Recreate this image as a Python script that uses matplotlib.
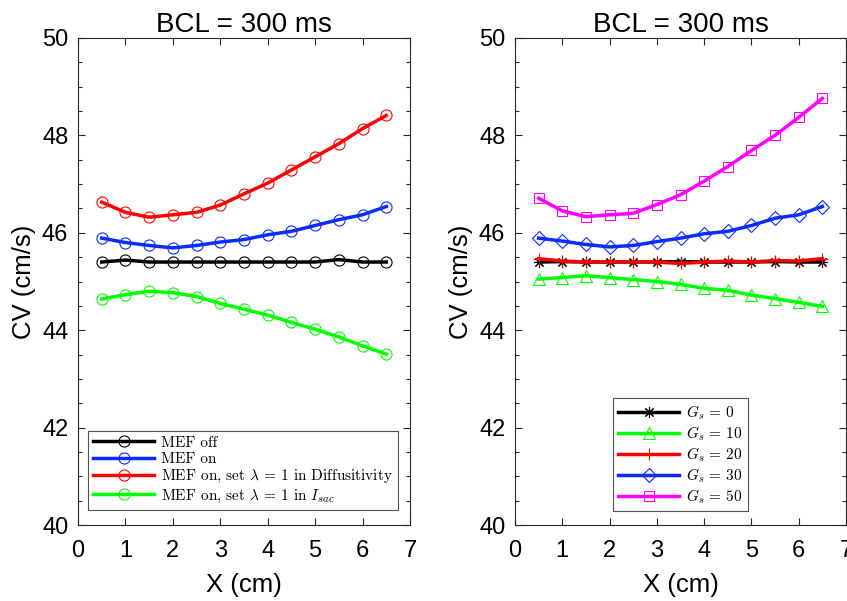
import numpy as np
import matplotlib
matplotlib.use('Agg')
import matplotlib.pyplot as plt

plt.rcParams['font.family'] = ['Liberation Sans', 'DejaVu Sans']
plt.rcParams['mathtext.fontset'] = 'cm'

x = [0.5, 1.0, 1.5, 2.0, 2.5, 3.0, 3.5, 4.0, 4.5, 5.0, 5.5, 6.0, 6.5]

# panel izquierdo
mef_off = [45.40, 45.44, 45.40, 45.40, 45.40, 45.40, 45.40, 45.40, 45.40, 45.40, 45.45, 45.40, 45.40]
mef_on = [45.89, 45.80, 45.74, 45.69, 45.74, 45.81, 45.86, 45.96, 46.03, 46.15, 46.27, 46.37, 46.54]
mef_diff = [46.63, 46.42, 46.32, 46.37, 46.42, 46.57, 46.80, 47.02, 47.29, 47.56, 47.83, 48.14, 48.41]
mef_isac = [44.64, 44.73, 44.80, 44.77, 44.69, 44.55, 44.43, 44.31, 44.16, 44.02, 43.86, 43.68, 43.51]

# panel derecho
gs0 = [45.40, 45.41, 45.40, 45.40, 45.40, 45.40, 45.41, 45.40, 45.40, 45.40, 45.41, 45.40, 45.40]
gs10 = [45.05, 45.08, 45.12, 45.08, 45.04, 45.00, 44.94, 44.86, 44.82, 44.72, 44.65, 44.57, 44.49]
gs20 = [45.47, 45.42, 45.40, 45.40, 45.40, 45.40, 45.37, 45.40, 45.42, 45.40, 45.43, 45.42, 45.47]
gs30 = [45.89, 45.83, 45.76, 45.71, 45.74, 45.82, 45.89, 45.98, 46.03, 46.15, 46.30, 46.37, 46.54]
gs50 = [46.71, 46.45, 46.33, 46.37, 46.40, 46.58, 46.78, 47.06, 47.36, 47.69, 48.00, 48.37, 48.76]

izq = [
    (mef_off, 'k', 'MEF off'),
    (mef_on, '#0a2cff', 'MEF on'),
    (mef_diff, '#ff0000', r'MEF on, set $\lambda\,=\,1$ in Diffusitivity'),
    (mef_isac, '#00ff00', r'MEF on, set $\lambda\,=\,1$ in $I_{sac}$'),
]
der = [
    (gs0, 'k', (8, 2, 0), 8, r'$G_s\,=\,0$'),
    (gs10, '#00ff00', '^', 8, r'$G_s\,=\,10$'),
    (gs20, '#ff0000', '+', 9, r'$G_s\,=\,20$'),
    (gs30, '#0a2cff', 'D', 7.5, r'$G_s\,=\,30$'),
    (gs50, '#ff00ff', 's', 7, r'$G_s\,=\,50$'),
]


def estilo(ax):
    ax.set_xlim(0, 7)
    ax.set_ylim(40, 50)
    ax.set_xticks(range(0, 8))
    ax.set_yticks([40, 42, 44, 46, 48, 50])
    ax.set_yticks(np.arange(40, 50.01, 0.5), minor=True)
    ax.tick_params(which='both', direction='in', top=True, right=True,
                   labelsize=17, color='#262626', width=0.8)
    ax.tick_params(which='major', length=5)
    ax.tick_params(which='minor', length=3)
    ax.tick_params(axis='x', which='major', pad=11)
    ax.tick_params(axis='y', which='major', pad=7)
    for s in ax.spines.values():
        s.set_color('#262626')
        s.set_linewidth(0.8)
    ax.set_title('BCL = 300 ms', fontsize=20, pad=4)
    ax.set_xlabel('X (cm)', fontsize=18.5, labelpad=8)
    ax.set_ylabel('CV (cm/s)', fontsize=18.5, labelpad=4)


fig = plt.figure(figsize=(8.47, 6.01), dpi=100)
ax1 = fig.add_axes([78/847, 1-525/601, 332/847, 487/601])
ax2 = fig.add_axes([515/847, 1-525/601, 331/847, 487/601])

for y, c, lab in izq:
    ax1.plot(x, y, color=c, lw=2.5, marker='o', ms=8, mfc='none',
             mec=c, mew=0.8, label=lab)
for y, c, m, ms, lab in der:
    ax2.plot(x, y, color=c, lw=2.5, marker=m, ms=ms, mfc='none',
             mec=c, mew=0.8, label=lab)

leyenda = dict(prop={'family': 'cmr10', 'size': 11}, frameon=True,
               fancybox=False, edgecolor='#262626', handlelength=4.0,
               borderpad=0.35, labelspacing=0.15, handletextpad=0.45,
               borderaxespad=0)
for ax in (ax1, ax2):
    estilo(ax)

leg1 = ax1.legend(loc='lower left', bbox_to_anchor=(0.03, 0.031), **leyenda)
leg2 = ax2.legend(loc='lower left', bbox_to_anchor=(0.296, 0.029), **leyenda)
for leg in (leg1, leg2):
    leg.get_frame().set_linewidth(0.8)

fig.savefig('out.png', dpi=100)
